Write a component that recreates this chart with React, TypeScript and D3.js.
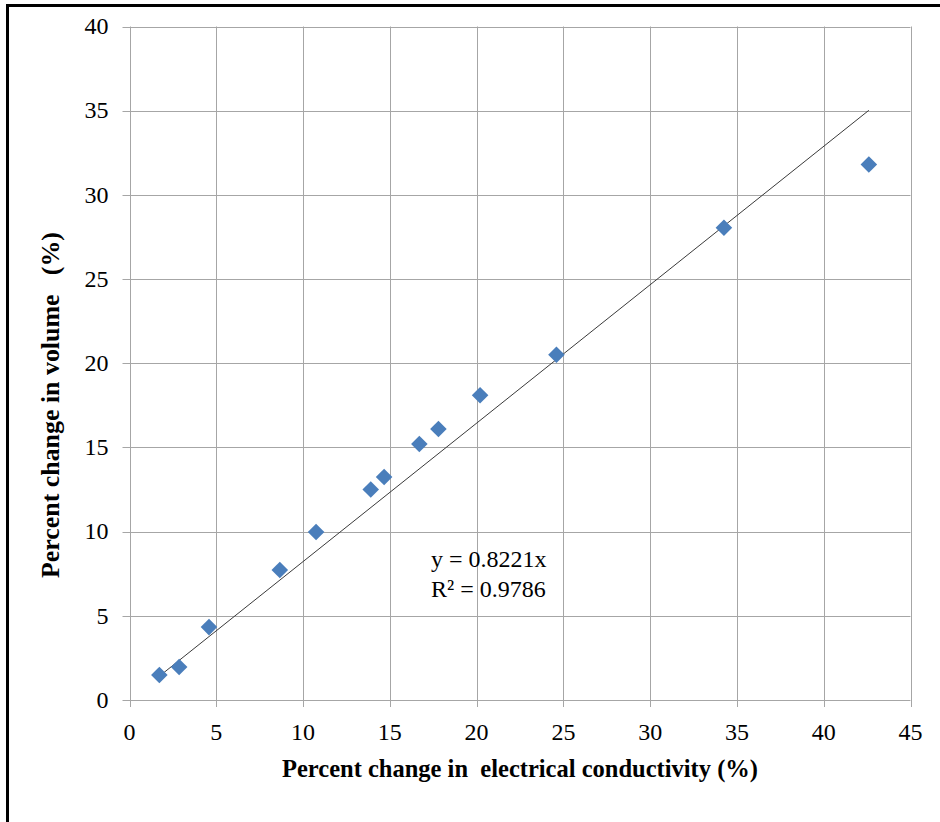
import React from "react";
import * as d3 from "d3";

const xValues = [1.72, 2.86, 4.58, 8.66, 10.75, 13.9, 14.67, 16.7, 17.8, 20.2, 24.6, 34.25, 42.6];
const yValues = [1.48, 1.96, 4.33, 7.72, 9.98, 12.5, 13.24, 15.2, 16.1, 18.1, 20.5, 28.05, 31.8];
const xTicks = [0, 5, 10, 15, 20, 25, 30, 35, 40, 45];
const yTicks = [0, 5, 10, 15, 20, 25, 30, 35, 40];
const slope = 0.8221;
const eqLabel = "y = 0.8221x";
const r2Label = "R² = 0.9786";
const xTitle = "Percent change in  electrical conductivity (%)";
const yTitle = "Percent change in volume   (%)";

const W = 940;
const H = 822;
const left = 129.5;
const right = 910.5;
const top = 26.5;
const bottom = 700;

export default function App() {
  const x = d3.scaleLinear().domain([0, 45]).range([left, right]);
  const y = d3.scaleLinear().domain([0, 40]).range([bottom, top]);
  const grid = "#a6a6a6";
  const font = "Liberation Serif, Times New Roman, serif";
  const xMin = d3.min(xValues) as number;
  const xMax = d3.max(xValues) as number;
  const trend = d3.line<number>().x((d) => x(d)).y((d) => y(slope * d));
  const diamond = d3.symbol().type(d3.symbolDiamond2).size(175)() as string;
  const ts = { fontFamily: font, whiteSpace: "pre" as const };

  return (
    <svg
      width={W}
      height={H}
      style={{ position: "absolute", left: 0, top: 0, background: "#fff" }}
    >
      <rect x={0} y={0} width={W} height={H} fill="#fff" />
      {/* frame */}
      <line x1={7.5} y1={4} x2={7.5} y2={H} stroke="#000" strokeWidth={3} />
      <line x1={6} y1={5.5} x2={W} y2={5.5} stroke="#000" strokeWidth={3} />

      {/* gridlines */}
      {yTicks.map((t) => (
        <line key={"gy" + t} x1={left - 7} x2={right} y1={Math.round(y(t)) + 0.5} y2={Math.round(y(t)) + 0.5} stroke={grid} strokeWidth={1} />
      ))}
      {xTicks.map((t) => (
        <line key={"gx" + t} y1={top} y2={bottom + 7} x1={Math.round(x(t)) + 0.5} x2={Math.round(x(t)) + 0.5} stroke={grid} strokeWidth={1} />
      ))}

      {/* tick labels */}
      {yTicks.map((t) => (
        <text key={"ly" + t} x={108.5} y={y(t) + 7.8} textAnchor="end" fontSize={24} fill="#000" style={ts}>
          {t}
        </text>
      ))}
      {xTicks.map((t) => (
        <text key={"lx" + t} x={x(t)} y={739.5} textAnchor="middle" fontSize={24} fill="#000" style={ts}>
          {t}
        </text>
      ))}

      {/* trendline */}
      <path d={trend([xMin, xMax]) as string} stroke="#3a3a3a" strokeWidth={1} fill="none" />

      {/* points */}
      {xValues.map((v, i) => (
        <path key={"p" + i} d={diamond} transform={`translate(${x(v)},${y(yValues[i])})`} fill="#4a7ebb" />
      ))}

      {/* equation */}
      <text x={431} y={567} fontSize={24} fill="#000" style={ts}>{eqLabel}</text>
      <text x={431} y={597} fontSize={24} fill="#000" style={ts}>{r2Label}</text>

      {/* axis titles */}
      <text x={282} y={777} fontSize={25} fontWeight="bold" fill="#000" style={ts} textLength={476} lengthAdjust="spacingAndGlyphs">
        {xTitle}
      </text>
      <text
        transform={`translate(59,578) rotate(-90)`}
        fontSize={25}
        fontWeight="bold"
        fill="#000"
        style={ts}
        textLength={346}
        lengthAdjust="spacingAndGlyphs"
      >
        {yTitle}
      </text>
    </svg>
  );
}
